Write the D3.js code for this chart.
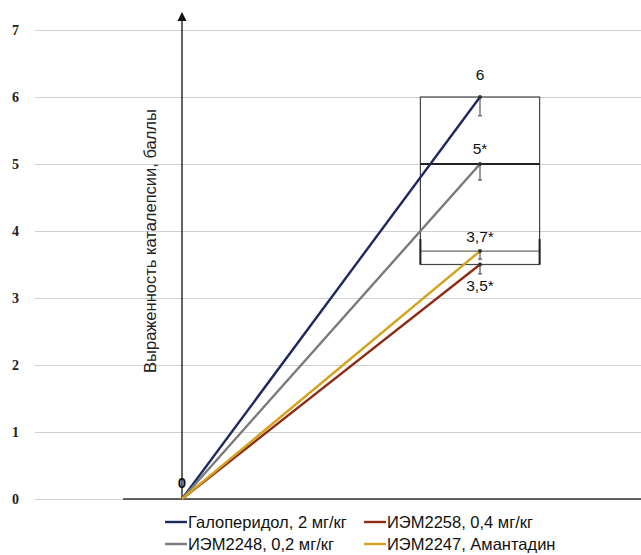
<!DOCTYPE html>
<html>
<head>
<meta charset="utf-8">
<script src="https://cdn.jsdelivr.net/npm/d3@7"></script>
<style>
  body { margin: 0; background: #fff; }
  svg { font-family: "Liberation Sans", Arial, sans-serif; }
</style>
</head>
<body>
<div id="chart"></div>
<script>
// data
const xPoints = [0, 1];
const seriesNames = ['Галоперидол, 2 мг/кг', 'ИЭМ2258, 0,4 мг/кг', 'ИЭМ2248, 0,2 мг/кг', 'ИЭМ2247, Амантадин'];
const seriesColors = ['#1d2b5c', '#8e2b17', '#7a7a7a', '#d4a21c'];
const haloperidol = [0, 6];
const iem2258 = [0, 3.5];
const iem2248 = [0, 5];
const iem2247 = [0, 3.7];
const errors = [0.28, 0.14, 0.24, 0.12];
const endLabels = ['6', '3,5*', '5*', '3,7*'];
const yTicks = [0, 1, 2, 3, 4, 5, 6, 7];

const width = 641, height = 555;

const svg = d3.select('#chart').append('svg')
    .attr('width', width)
    .attr('height', height);

const x = d3.scaleLinear().domain([0, 1]).range([182, 480]);
const y = d3.scaleLinear().domain([0, 7]).range([499, 30]);

// grid + tick labels
const yAxis = svg.append('g')
    .attr('transform', 'translate(35,0)')
    .call(d3.axisLeft(y).tickValues(yTicks).tickFormat(d3.format('d'))
        .tickSize(-(width - 35)).tickPadding(16));
yAxis.select('.domain').remove();
yAxis.selectAll('.tick line').attr('stroke', '#d0d0d0').attr('stroke-width', 1);
yAxis.selectAll('.tick text')
    .attr('font-family', '"Liberation Serif", serif')
    .attr('font-weight', 'bold')
    .attr('font-size', 14)
    .attr('fill', '#222');

// baseline
svg.append('line')
    .attr('x1', 123).attr('x2', width)
    .attr('y1', y(0)).attr('y2', y(0))
    .attr('stroke', '#333').attr('stroke-width', 1.5);

// vertical axis with arrow
svg.append('defs').append('marker')
    .attr('id', 'arrow')
    .attr('viewBox', '0 0 10 10')
    .attr('refX', 5).attr('refY', 5)
    .attr('markerWidth', 7).attr('markerHeight', 7)
    .attr('orient', 'auto')
  .append('path')
    .attr('d', 'M0,0L10,5L0,10z')
    .attr('fill', '#111');

svg.append('line')
    .attr('x1', x(0)).attr('x2', x(0))
    .attr('y1', y(0)).attr('y2', y(7.2))
    .attr('stroke', '#111').attr('stroke-width', 1.3)
    .attr('marker-end', 'url(#arrow)');

svg.append('text')
    .attr('transform', `translate(${x(0) - 26},${y(3.85)}) rotate(-90)`)
    .attr('text-anchor', 'middle')
    .attr('font-size', 16.5)
    .attr('fill', '#222')
    .text('Выраженность каталепсии, баллы');

// annotation box
svg.append('rect')
    .attr('x', x(0.8)).attr('y', y(6))
    .attr('width', x(1.2) - x(0.8)).attr('height', y(3.5) - y(6))
    .attr('fill', 'none').attr('stroke', '#444').attr('stroke-width', 1.2);
svg.append('line')
    .attr('x1', x(0.8)).attr('x2', x(1.2))
    .attr('y1', y(5)).attr('y2', y(5))
    .attr('stroke', '#222').attr('stroke-width', 2);
svg.append('line')
    .attr('x1', x(0.8)).attr('x2', x(1.2))
    .attr('y1', y(3.7)).attr('y2', y(3.7))
    .attr('stroke', '#444').attr('stroke-width', 1);
[0.8, 1.2].forEach(v => {
    svg.append('line')
        .attr('x1', x(v)).attr('x2', x(v))
        .attr('y1', y(3.88)).attr('y2', y(3.5))
        .attr('stroke', '#222').attr('stroke-width', 2);
});

// series lines
const allSeries = [haloperidol, iem2258, iem2248, iem2247];
const line = d3.line().x((d, i) => x(xPoints[i])).y(d => y(d));

allSeries.forEach((vals, s) => {
    svg.append('path')
        .datum(vals)
        .attr('d', line)
        .attr('fill', 'none')
        .attr('stroke', seriesColors[s])
        .attr('stroke-width', 2.4);
});

// error bars
allSeries.forEach((vals, s) => {
    const v = vals[1];
    svg.append('line')
        .attr('x1', x(1)).attr('x2', x(1))
        .attr('y1', y(v)).attr('y2', y(v - errors[s]))
        .attr('stroke', '#555').attr('stroke-width', 1.2);
    svg.append('line')
        .attr('x1', x(1) - 2).attr('x2', x(1) + 2)
        .attr('y1', y(v - errors[s])).attr('y2', y(v - errors[s]))
        .attr('stroke', '#555').attr('stroke-width', 1.2);
    svg.append('circle')
        .attr('cx', x(1)).attr('cy', y(v)).attr('r', 2)
        .attr('fill', '#333');
});

// value labels
const labelOffsets = [-17, 26, -10, -9];
allSeries.forEach((vals, s) => {
    svg.append('text')
        .attr('x', x(1)).attr('y', y(vals[1]) + labelOffsets[s])
        .attr('text-anchor', 'middle')
        .attr('font-size', 15.5)
        .attr('fill', '#111')
        .text(endLabels[s]);
});
svg.append('text')
    .attr('x', x(0)).attr('y', y(0) - 11)
    .attr('text-anchor', 'middle')
    .attr('font-size', 15)
    .attr('font-weight', 'bold')
    .attr('fill', '#111')
    .text('0');

// legend
const legendPos = [[165, 522], [364, 522], [165, 544], [364, 544]];
const legend = svg.append('g');
seriesNames.forEach((name, s) => {
    const [lx, ly] = legendPos[s];
    legend.append('line')
        .attr('x1', lx).attr('x2', lx + 22)
        .attr('y1', ly).attr('y2', ly)
        .attr('stroke', seriesColors[s]).attr('stroke-width', 2.4);
    legend.append('text')
        .attr('x', lx + 23).attr('y', ly + 6)
        .attr('font-size', 16.5)
        .attr('fill', '#111')
        .text(name);
});
</script>
</body>
</html>
